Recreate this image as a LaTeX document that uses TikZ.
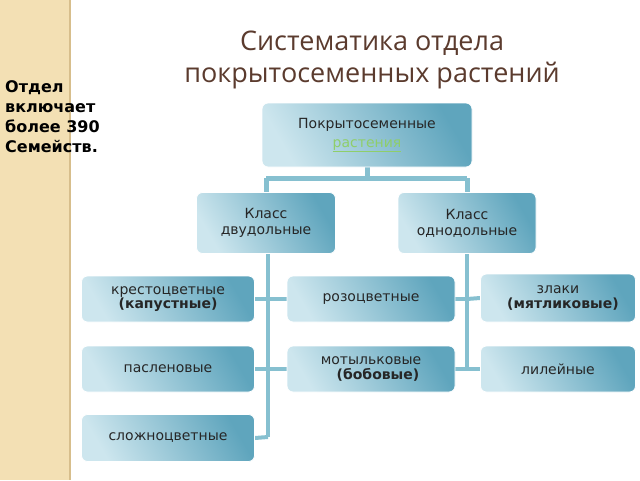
\documentclass[tikz,border=0pt]{standalone}
\usepackage{fontspec}
\usetikzlibrary{backgrounds}
\setmainfont{DejaVu Sans}
\newfontfamily\titlefont{Open Sans}
\begin{document}
\begin{tikzpicture}[x=1pt,y=-1pt,
  box/.style={rounded corners=6pt, draw=white, line width=0.8pt, left color=boxL, right color=boxR, shading angle=120, align=center, font=\fontsize{14}{16}\selectfont, inner sep=0pt, text=black!85},
  conn/.style={draw=lineC, line width=4pt}]
\definecolor{boxL}{HTML}{CDE6EE}
\definecolor{boxR}{HTML}{5FA5BD}
\definecolor{lineC}{HTML}{86C0D0}
\definecolor{titleC}{HTML}{5B3B2E}
\useasboundingbox (0,0) rectangle (640,480);
\node[font=\titlefont\fontsize{27}{32}\selectfont, text=titleC, align=center] (title) at (372,60) {Систематика отдела\\покрытосеменных растений};
\node[font=\bfseries\fontsize{16}{20}\selectfont, align=left, anchor=north west, inner sep=0pt] (note) at (5,80) {Отдел\\включает\\более 390\\Семейств.};
\coordinate (jt) at (367,178);
\coordinate (jl) at (266,178);
\coordinate (jr) at (467,178);
\coordinate (tl) at (268,437);
\coordinate (tr) at (467,369);
\coordinate (b3) at (467,299);
\node[box, minimum width=210, minimum height=64] (top) at (367,135) {Покрытосеменные\\[3pt]{\color[HTML]{8FCE6A}\underline{растения}}};
\node[box, minimum width=139, minimum height=61] (dic) at (266,223) {Класс\\двудольные};
\node[box, minimum width=138, minimum height=61] (mon) at (467,223) {Класс\\однодольные};
\node[box, minimum width=173, minimum height=46] (kr) at (168,299) {крестоцветные\\[-2pt]\textbf{(капустные)}};
\node[box, minimum width=168, minimum height=46] (roz) at (371,299) {розоцветные};
\node[box, minimum width=155, minimum height=48] (zl) at (558,298) {злаки\\[-1pt]\hspace{10pt}\textbf{(мятликовые)}};
\node[box, minimum width=173, minimum height=46] (pas) at (168,369) {пасленовые};
\node[box, minimum width=168, minimum height=46] (mot) at (371,369) {мотыльковые\\[-1pt]\hspace{14pt}\textbf{(бобовые)}};
\node[box, minimum width=155, minimum height=46] (lil) at (558,369) {лилейные};
\node[box, minimum width=173, minimum height=47] (sl) at (168,438) {сложноцветные};
\begin{scope}[on background layer]
\fill[color={rgb,255:red,243;green,224;blue,180}] (0,0) rectangle (70,480);
\draw[color={rgb,255:red,215;green,190;blue,140}, line width=1.5pt] (70,0) -- (70,480);
\draw[conn, line width=5pt] (top.south) -- (jt);
\draw[conn, line width=5pt] (jl) -- (jr);
\draw[conn, line width=5pt] (jl) -- (dic.north);
\draw[conn, line width=5pt] (jr) -- (mon.north);
\draw[conn] (dic.south -| tl) -- (tl);
\draw[conn] (tl) -- (sl.east);
\draw[conn] (kr.east) -- (roz.west);
\draw[conn] (pas.east) -- (mot.west);
\draw[conn] (mon.south) -- (tr);
\draw[conn] (tr) -- (lil.west);
\draw[conn] (zl.west) -- (b3);
\draw[conn] (mot.east) -- (tr);
\draw[conn] (roz.east) -- (b3);
\end{scope}
\end{tikzpicture}
\end{document}
